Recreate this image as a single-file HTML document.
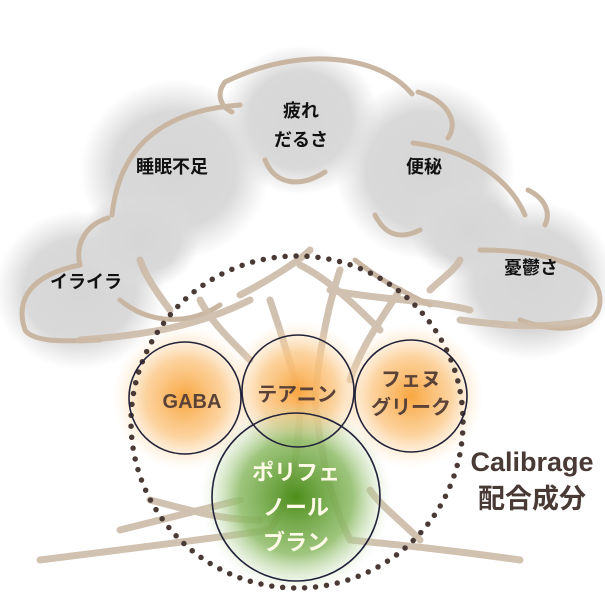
<!DOCTYPE html>
<html><head><meta charset="utf-8"><style>
html,body{margin:0;padding:0;background:#fff;}
svg{display:block}
text{font-family:"Liberation Sans","Noto Sans CJK JP",sans-serif;font-weight:bold;}
</style></head><body>
<svg width="605" height="605" viewBox="0 0 605 605">
<defs>
<radialGradient id="g" cx="50%" cy="50%" r="50%"><stop offset="0" stop-color="#d6d6d6"/><stop offset="0.65" stop-color="#d9d9d9"/><stop offset="1" stop-color="#dcdcdc" stop-opacity="0"/></radialGradient>
<radialGradient id="o" cx="50%" cy="50%" r="50%"><stop offset="0" stop-color="#f9a640"/><stop offset="0.55" stop-color="#fbc887" stop-opacity="0.8"/><stop offset="1" stop-color="#fde3c0" stop-opacity="0"/></radialGradient>
<radialGradient id="gr" cx="50%" cy="50%" r="50%"><stop offset="0" stop-color="#4d8e1c"/><stop offset="0.6" stop-color="#8dbb66" stop-opacity="0.85"/><stop offset="1" stop-color="#cfe3bd" stop-opacity="0"/></radialGradient>
</defs>
<ellipse cx="300" cy="120" rx="80" ry="75" fill="url(#g)"/>
<ellipse cx="175" cy="170" rx="95" ry="90" fill="url(#g)"/>
<ellipse cx="425" cy="170" rx="90" ry="90" fill="url(#g)"/>
<ellipse cx="80" cy="290" rx="85" ry="80" fill="url(#g)"/>
<ellipse cx="530" cy="280" rx="85" ry="80" fill="url(#g)"/>
<ellipse cx="470" cy="230" rx="60" ry="50" fill="url(#g)"/>
<ellipse cx="140" cy="240" rx="60" ry="50" fill="url(#g)"/>
<g fill="none" stroke="#c9b6a2" stroke-width="5" stroke-linecap="round">
<path d="M225 82 C300 45 380 55 412 94"/>
<path d="M225 82 C215 95 222 108 232 112"/>
<path d="M418 92 C445 100 460 120 448 138"/>
<path d="M413 143 C470 150 510 180 525 215"/>
<path d="M528 190 C548 200 550 215 545 225"/>
<path d="M480 250 C540 250 600 265 600 300 C600 330 560 335 520 320"/>
<path d="M240 105 C170 110 120 140 112 215"/>
<path d="M108 218 C85 225 75 245 80 265"/>
<path d="M80 265 C30 275 15 300 25 330 C35 345 80 340 100 340"/>
<path d="M265 160 C275 185 300 188 325 172"/>
<path d="M375 215 C385 235 400 240 420 230"/>
<path d="M120 300 C150 325 190 325 220 305"/>
<path d="M355 260 C380 280 400 290 430 305"/>
</g>
<g fill="none" stroke="#cdbba8" stroke-width="7" stroke-linecap="round" opacity="0.9">
<path d="M80 340 C150 335 200 325 250 300"/>
<path d="M240 295 C270 280 300 260 310 250"/>
<path d="M300 265 C330 280 360 310 380 330"/>
<path d="M330 290 C380 300 430 300 470 310"/>
<path d="M460 320 C500 325 540 330 590 320"/>
<path d="M200 300 C210 320 230 340 250 360"/>
<path d="M270 300 C280 330 290 360 300 400"/>
<path d="M340 270 C330 300 320 340 315 400"/>
<path d="M400 290 C380 320 360 350 350 380"/>
<path d="M430 290 C440 280 455 270 460 260"/>
<path d="M170 310 C155 290 145 275 140 260"/>
<path d="M300 400 C300 450 290 500 270 530"/>
<path d="M315 400 C320 450 330 500 350 540"/>
<path d="M270 530 C200 540 120 550 40 560"/>
<path d="M350 540 C400 545 450 550 520 560"/>
<path d="M150 500 C190 510 220 520 260 520"/>
<path d="M120 530 C160 520 200 510 240 500"/>
<path d="M420 540 C400 520 380 505 370 490"/>
</g>
<circle cx="185" cy="398" r="72" fill="url(#o)"/>
<circle cx="298" cy="391" r="70" fill="url(#o)"/>
<circle cx="411" cy="396" r="72" fill="url(#o)"/>
<circle cx="296" cy="497" r="95" fill="url(#gr)"/>
<circle cx="297" cy="422" r="166" fill="none" stroke="#4a3a36" stroke-width="5.5" stroke-linecap="round" stroke-dasharray="0 11"/>
<g fill="none" stroke="#22223a" stroke-width="1.6">
<circle cx="185" cy="398" r="56"/>
<circle cx="298" cy="391" r="56"/>
<circle cx="411" cy="396" r="56"/>
<circle cx="296" cy="497" r="84"/>
</g>
<g font-size="18" fill="#111" text-anchor="middle">
<text x="301" y="117">疲れ</text>
<text x="301" y="146">だるさ</text>
<text x="172" y="173">睡眠不足</text>
<text x="424" y="173">便秘</text>
<text x="86" y="288">イライラ</text>
<text x="531" y="274">憂鬱さ</text>
</g>
<g font-size="20" fill="#5a4238" text-anchor="middle">
<text x="192" y="408">GABA</text>
<text x="297" y="401">テアニン</text>
<text x="411" y="386">フェヌ</text>
<text x="411" y="414">グリーク</text>
</g>
<g font-size="22" fill="#fffbe8" text-anchor="middle">
<text x="296" y="480">ポリフェ</text>
<text x="296" y="515">ノール</text>
<text x="296" y="550">ブラン</text>
</g>
<g font-size="27" fill="#4a3a36" text-anchor="middle">
<text x="532" y="471">Calibrage</text>
<text x="532" y="508">配合成分</text>
</g>
</svg>
</body></html>
